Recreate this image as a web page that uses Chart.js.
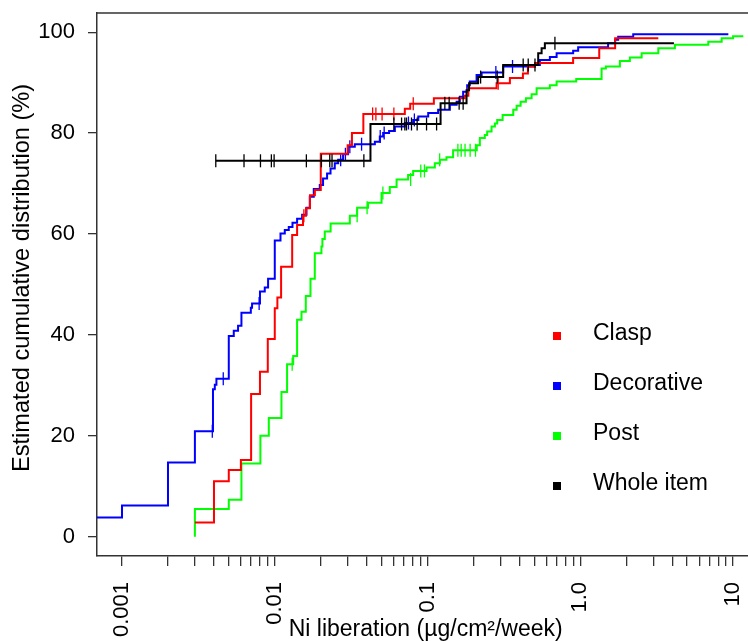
<!DOCTYPE html>
<html>
<head>
<meta charset="utf-8">
<script src="https://cdn.jsdelivr.net/npm/chart.js@4.4.1/dist/chart.umd.min.js"></script>
<style>
  html, body { margin: 0; padding: 0; background: #fff; overflow: hidden; }
</style>
</head>
<body>
<canvas id="chart" width="748" height="641"></canvas>
<script>
// step curves: value becomes Y[i] at X[i]
const claspX = [0.003, 0.004, 0.005, 0.006, 0.007, 0.008, 0.009, 0.010, 0.0104, 0.011, 0.013, 0.014, 0.0153, 0.016, 0.017, 0.0183, 0.020, 0.030, 0.032, 0.038, 0.071, 0.077, 0.110, 0.175, 0.185, 0.283, 0.346, 0.421, 0.454, 0.505, 0.897, 1.33, 1.69, 3.24];
const claspY = [2.8, 11.0, 13.2, 15.2, 28.3, 32.7, 39.2, 45.3, 47.4, 53.5, 59.8, 61.8, 63.6, 65.1, 67.7, 68.7, 75.9, 77.6, 80.0, 83.8, 84.8, 85.8, 86.9, 87.4, 88.9, 89.9, 90.9, 91.8, 93.2, 93.9, 94.9, 96.8, 98.8, 98.8];

const decorX = [0.000686, 0.001, 0.002, 0.003, 0.00394, 0.00405, 0.00415, 0.005, 0.00539, 0.00575, 0.00605, 0.00697, 0.0071, 0.008, 0.0086, 0.00904, 0.010, 0.0109, 0.01163, 0.01235, 0.01306, 0.014, 0.0151, 0.01613, 0.01695, 0.018, 0.0197, 0.0207, 0.022, 0.02317, 0.0247, 0.026, 0.028, 0.0302, 0.0334, 0.0452, 0.0487, 0.0512, 0.056, 0.0611, 0.071, 0.0805, 0.087, 0.101, 0.1173, 0.14, 0.155, 0.1627, 0.171, 0.1817, 0.189, 0.2094, 0.226, 0.3126, 0.505, 0.5437, 0.632, 0.6996, 0.8977, 0.968, 1.52, 1.69, 1.77, 2.22, 9.31];
const decorY = [3.8, 6.2, 14.7, 20.9, 29.2, 30.1, 31.3, 39.8, 40.8, 41.8, 44.4, 45.4, 46.2, 48.6, 49.4, 51.1, 58.7, 60.1, 60.8, 61.4, 62.2, 63.0, 63.8, 65.2, 67.4, 68.9, 69.7, 71.0, 72.0, 73.0, 74.0, 74.7, 75.8, 77.3, 77.8, 78.3, 79.3, 80.0, 80.4, 81.3, 82.0, 82.6, 83.3, 84.0, 84.6, 85.6, 86.2, 87.2, 88.2, 89.5, 90.2, 91.5, 92.0, 93.2, 93.5, 94.5, 95.1, 95.8, 96.3, 97.0, 97.8, 98.5, 99.1, 99.6, 99.6];

const postX = [0.003, 0.003, 0.005, 0.00605, 0.00805, 0.00914, 0.01106, 0.01204, 0.0132, 0.014, 0.01496, 0.01596, 0.01713, 0.01828, 0.0202, 0.0205, 0.02125, 0.0232, 0.031, 0.0346, 0.0408, 0.05, 0.0566, 0.0627, 0.0746, 0.0805, 0.0985, 0.1116, 0.1204, 0.133, 0.147, 0.21, 0.22, 0.237, 0.2456, 0.2624, 0.276, 0.2857, 0.31, 0.364, 0.383, 0.4066, 0.4405, 0.48, 0.5176, 0.632, 0.6996, 0.94, 1.378, 1.47, 1.816, 2.11, 2.52, 3.24, 4.16, 6.88, 8.42, 10.0, 11.67];
const postY = [0, 5.5, 7.3, 14.5, 20.0, 23.5, 28.7, 34.2, 35.8, 43.0, 44.6, 47.7, 51.1, 56.2, 57.5, 59.0, 60.5, 62.1, 63.6, 65.2, 66.2, 68.1, 69.3, 70.8, 71.7, 72.5, 73.2, 74.0, 74.7, 75.2, 76.6, 77.6, 79.0, 79.6, 80.3, 81.3, 81.9, 82.6, 83.6, 84.6, 85.4, 86.2, 86.9, 87.7, 88.9, 89.5, 90.2, 90.7, 92.8, 93.2, 94.3, 95.0, 95.8, 96.8, 97.5, 98.1, 98.8, 99.2, 99.2];

const wholeX = [0.00411, 0.0423, 0.1217, 0.18, 0.187, 0.2143, 0.3126, 0.53, 0.558, 0.586, 4.1];
const wholeY = [74.5, 81.8, 85.9, 88.5, 89.9, 91.1, 93.5, 95.8, 96.8, 97.8, 97.8];

// censored observations (tick marks)
const claspCensX = [0.0155, 0.0437, 0.0459, 0.0504, 0.0602, 0.0806, 0.29];
const claspCensY = [63.6, 83.8, 83.8, 83.8, 83.8, 85.8, 89.9];
const decorCensX = [0.0039, 0.0046, 0.0079, 0.027, 0.029, 0.031, 0.037, 0.049, 0.052, 0.075, 0.082, 0.28, 0.36];
const decorCensY = [20.9, 31.3, 46.2, 74.7, 75.8, 77.3, 77.8, 79.3, 80.0, 82.0, 82.6, 92.0, 93.2];
const postCensX = [0.013, 0.0346, 0.0402, 0.051, 0.0775, 0.0903, 0.0954, 0.12, 0.158, 0.166, 0.176, 0.19, 0.206];
const postCensY = [34.2, 63.6, 65.2, 68.1, 70.8, 72.5, 72.5, 74.7, 76.6, 76.6, 76.6, 76.6, 76.6];
const wholeCensX = [0.00411, 0.00629, 0.00806, 0.0095, 0.0099, 0.0161, 0.0202, 0.0229, 0.0237, 0.0383, 0.0602, 0.0676, 0.071, 0.0728, 0.0785, 0.0855, 0.0985, 0.1146, 0.1298, 0.1385, 0.161, 0.171, 0.2225, 0.2857, 0.4227, 0.456, 0.505, 0.682];
const wholeCensY = [74.5, 74.5, 74.5, 74.5, 74.5, 74.5, 74.5, 74.5, 74.5, 74.5, 81.8, 81.8, 81.8, 81.8, 81.8, 81.8, 81.8, 81.8, 85.9, 85.9, 85.9, 85.9, 91.1, 91.1, 93.5, 93.5, 93.5, 97.8];

const xTicks = [0.001, 0.002, 0.003, 0.004, 0.005, 0.006, 0.007, 0.008, 0.009,
                0.01, 0.02, 0.03, 0.04, 0.05, 0.06, 0.07, 0.08, 0.09,
                0.1, 0.2, 0.3, 0.4, 0.5, 0.6, 0.7, 0.8, 0.9,
                1, 2, 3, 4, 5, 6, 7, 8, 9, 10];
const xTickLabels = ['0.001', '', '', '', '', '', '', '', '',
                     '0.01', '', '', '', '', '', '', '', '',
                     '0.1', '', '', '', '', '', '', '', '',
                     '1.0', '', '', '', '', '', '', '', '', '10'];
const yTicks = [0, 20, 40, 60, 80, 100];

const legendNames = ['Clasp', 'Decorative', 'Post', 'Whole item'];
const legendColors = ['#ff0000', '#0000ff', '#00ff00', '#000000'];

const FONT = '"Liberation Sans", Arial, Helvetica, sans-serif';

function pts(xs, ys) {
  return xs.map((x, i) => ({ x: x, y: ys[i] }));
}

function stepSet(xs, ys, color) {
  return {
    data: pts(xs, ys),
    borderColor: color,
    borderWidth: 2,
    stepped: true,
    pointRadius: 0,
    fill: false
  };
}

function censSet(xs, ys, color) {
  return {
    data: pts(xs, ys),
    showLine: false,
    borderColor: color,
    backgroundColor: color,
    pointStyle: 'line',
    pointRotation: 90,
    pointRadius: 6.5,
    pointBorderWidth: 1.3
  };
}

const datasets = [
  stepSet(wholeX, wholeY, legendColors[3]),
  censSet(wholeCensX, wholeCensY, legendColors[3]),
  stepSet(claspX, claspY, legendColors[0]),
  censSet(claspCensX, claspCensY, legendColors[0]),
  stepSet(decorX, decorY, legendColors[1]),
  censSet(decorCensX, decorCensY, legendColors[1]),
  stepSet(postX, postY, legendColors[2]),
  censSet(postCensX, postCensY, legendColors[2])
];

const boxLegend = {
  id: 'boxLegend',
  afterDraw(chart) {
    const { ctx, chartArea: a } = chart;
    ctx.save();
    ctx.strokeStyle = '#333';
    ctx.lineWidth = 1.5;
    ctx.beginPath();
    ctx.moveTo(a.left, a.top);
    ctx.lineTo(a.right, a.top);
    ctx.stroke();

    ctx.font = '23px ' + FONT;
    ctx.textBaseline = 'middle';
    legendNames.forEach((name, i) => {
      const y = a.top + 323 + i * 50;
      ctx.fillStyle = legendColors[i];
      ctx.fillRect(a.left + 456, y - 4, 8, 8);
      ctx.fillStyle = '#000';
      ctx.fillText(name, a.left + 496, y - 2);
    });
    ctx.restore();
  }
};

new Chart(document.getElementById('chart'), {
  type: 'line',
  data: { datasets: datasets },
  options: {
    responsive: false,
    animation: false,
    layout: { autoPadding: false, padding: { top: 13, right: 0, left: 0, bottom: 0 } },
    plugins: { legend: { display: false }, tooltip: { enabled: false } },
    scales: {
      x: {
        type: 'logarithmic',
        min: 0.000686,
        max: 12.52,
        afterBuildTicks: (s) => { s.ticks = xTicks.map(v => ({ value: v })); },
        afterFit: (s) => { s.height = 85; s.paddingLeft = 0; s.paddingRight = 0; },
        ticks: {
          autoSkip: false,
          minRotation: 90,
          maxRotation: 90,
          padding: 16,
          color: '#000',
          font: { family: FONT, size: 22 },
          callback: (v, i) => xTickLabels[i]
        },
        grid: { drawOnChartArea: false, drawTicks: true, tickLength: 10, color: '#333', lineWidth: 1.3 },
        border: { display: true, color: '#333', width: 1.5 },
        title: { display: true, text: ' Ni liberation (µg/cm²/week)', color: '#000', font: { family: FONT, size: 23 }, padding: { top: 0, bottom: -2 } }
      },
      y: {
        type: 'linear',
        min: -3.83,
        max: 103.8,
        afterBuildTicks: (s) => { s.ticks = yTicks.map(v => ({ value: v })); },
        afterFit: (s) => { s.width = 97; s.paddingTop = 0; s.paddingBottom = 0; },
        ticks: {
          padding: 13,
          color: '#000',
          font: { family: FONT, size: 22 }
        },
        grid: { drawOnChartArea: false, drawTicks: true, tickLength: 9, color: '#333', lineWidth: 1.3 },
        border: { display: true, color: '#333', width: 1.5 },
        title: { display: true, text: '  Estimated cumulative distribution (%)', color: '#000', font: { family: FONT, size: 23.6 }, padding: { top: 8, bottom: 0 } }
      }
    }
  },
  plugins: [boxLegend]
});
</script>
</body>
</html>
